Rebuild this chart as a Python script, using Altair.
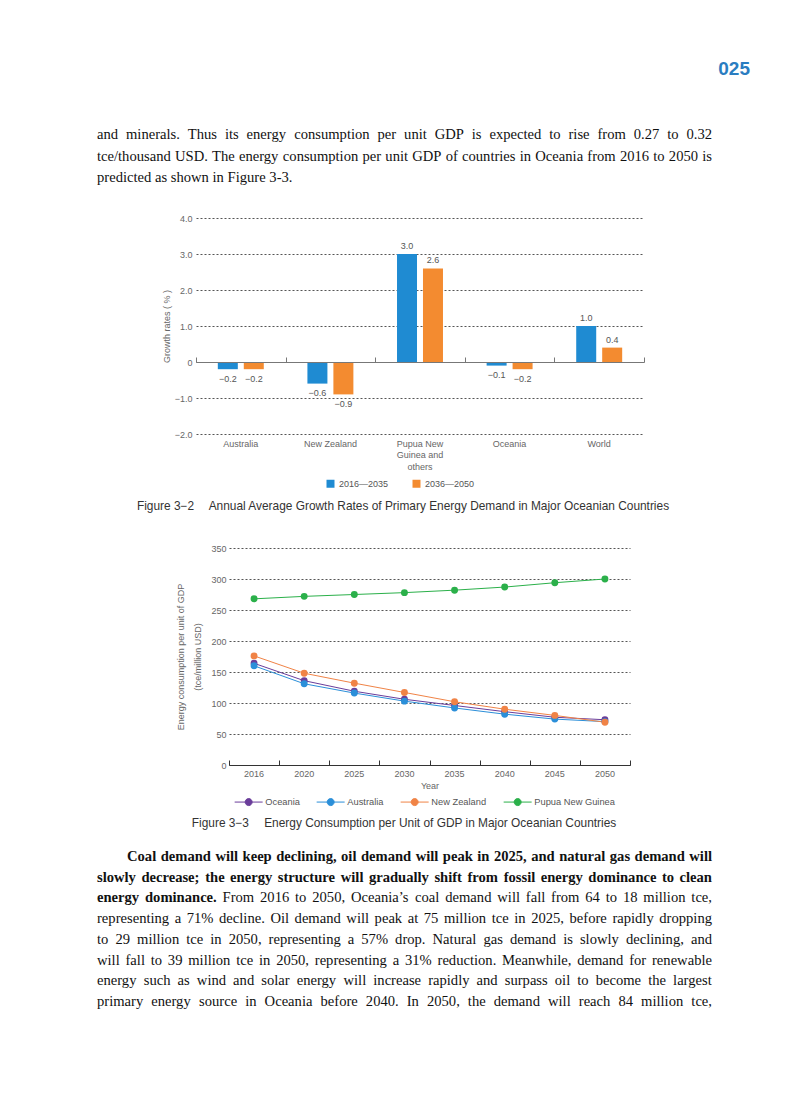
import altair as alt
import pandas as pd

W, H = 777, 1060

# ---------------- data ----------------
page_number = "025"
para1_lines = [
    "and minerals. Thus its energy consumption per unit GDP is expected to rise from 0.27 to 0.32",
    "tce/thousand USD. The energy consumption per unit GDP of countries in Oceania from 2016 to 2050 is",
    "predicted as shown in Figure 3-3.",
]
para2_bold_lines = [
    "Coal demand will keep declining, oil demand will peak in 2025, and natural gas demand will",
    "slowly decrease; the energy structure will gradually shift from fossil energy dominance to clean",
    "energy dominance.",
]
para2_regular_lines = [
    "From 2016 to 2050, Oceania\u2019s coal demand will fall from 64 to 18 million tce,",
    "representing a 71% decline. Oil demand will peak at 75 million tce in 2025, before rapidly dropping",
    "to 29 million tce in 2050, representing a 57% drop. Natural gas demand is slowly declining, and",
    "will fall to 39 million tce in 2050, representing a 31% reduction. Meanwhile, demand for renewable",
    "energy such as wind and solar energy will increase rapidly and surpass oil to become the largest",
    "primary energy source in Oceania before 2040. In 2050, the demand will reach 84 million tce,",
]
caption1 = "Figure 3\u22122\u2003 Annual Average Growth Rates of Primary Energy Demand in Major Oceanian Countries"
caption2 = "Figure 3\u22123\u2003 Energy Consumption per Unit of GDP in Major Oceanian Countries"

bar_categories = ["Australia", "New Zealand", "Pupua New Guinea and others", "Oceania", "World"]
period_a = "2016\u20142035"
period_b = "2036\u20142050"
growth_2016_2035 = [-0.2, -0.6, 3.0, -0.1, 1.0]
growth_2036_2050 = [-0.2, -0.9, 2.6, -0.2, 0.4]
bar_y_ticks = [-2, -1, 0, 1, 2, 3, 4]

years = ["2016", "2020", "2025", "2030", "2035", "2040", "2045", "2050"]
series = ["Oceania", "Australia", "New Zealand", "Pupua New Guinea"]
oceania = [164, 136, 119, 106, 96, 86, 77, 73]
australia = [160, 131, 116, 103, 92, 82, 74, 70]
new_zealand = [176, 148, 132, 117, 102, 90, 80, 69]
png = [268, 272, 275, 278, 282, 287, 294, 300]
line_y_ticks = [0, 50, 100, 150, 200, 250, 300, 350]

# ---------------- styles / layout ----------------
SANS = "Liberation Sans"
SERIF = "Liberation Serif"
BLUE, ORANGE = "#1f8bd2", "#f38b30"
LINE_COLORS = ["#6a3d9a", "#2b8fd9", "#f08346", "#2bb04a"]
AX_GRAY = "#666"

BX0, BX1, BYB, BYT = 188, 636, 426, 210
BY0 = BYB - (0 - (-2)) / 6 * (BYB - BYT)
LX0, LX1, LYB, LYT = 221, 622, 757, 540

# ---------------- bar chart ----------------
bar_df = pd.DataFrame({
    "cat": bar_categories * 2,
    "period": [period_a] * 5 + [period_b] * 5,
    "value": growth_2016_2035 + growth_2036_2050,
})
bx_scale = alt.Scale(domain=bar_categories, range=[BX0, BX1], paddingInner=0, paddingOuter=0)
bxo = alt.XOffset("period:N", scale=alt.Scale(domain=[period_a, period_b], paddingInner=0.23, paddingOuter=0.84))
by = alt.Y(
    "value:Q",
    scale=alt.Scale(domain=[-2, 4], range=[BYB, BYT], nice=False, zero=False),
    axis=alt.Axis(
        orient="left", offset=-BX0, values=bar_y_ticks,
        labelExpr="datum.value == 0 ? '0' : replace(format(datum.value, '.1f'), '-', '\u2212')",
        grid=True, gridDash=[2, 2], gridColor="#555", gridWidth=1,
        domain=False, ticks=False, tickSize=0, labelPadding=4,
        labelFontSize=9, labelColor=AX_GRAY,
        title="Growth rates ( % )", titleFontSize=9, titleFontWeight="normal",
        titleColor=AX_GRAY, titlePadding=3,
    ),
)

bx_bottom = alt.X(
    "cat:N", scale=bx_scale,
    axis=alt.Axis(
        orient="bottom", offset=-(H - BYB), domain=False, ticks=False, tickSize=0,
        labelPadding=5, labelAngle=0, labelFontSize=9, labelColor=AX_GRAY,
        labelLimit=200, labelLineHeight=11.5, labelBaseline="top",
        labelExpr="datum.label == 'Pupua New Guinea and others' ? ['Pupua New', 'Guinea and', 'others'] : datum.label",
        title=None, grid=False,
    ),
)
bx_top = alt.X(
    "cat:N", scale=bx_scale,
    axis=alt.Axis(
        orient="top", offset=-BY0, domain=True, domainColor="#777", domainWidth=1.2,
        ticks=True, tickSize=5, tickColor="#777", tickBand="extent",
        labels=False, title=None, grid=False, zindex=1,
    ),
)
bx_none = alt.X("cat:N", scale=bx_scale, axis=None)

bar_color = alt.Color(
    "period:N",
    scale=alt.Scale(domain=[period_a, period_b], range=[BLUE, ORANGE]),
    legend=alt.Legend(
        orient="none", legendX=318, legendY=471, direction="horizontal", title=None,
        symbolType="square", symbolSize=64, symbolStrokeWidth=0,
        labelFontSize=9, labelColor="#555", labelFont=SANS,
        columnPadding=23, labelOffset=4, padding=0,
    ),
)

bars = alt.Chart(bar_df).mark_bar().encode(x=bx_bottom, xOffset=bxo, y=by, color=bar_color)
lab_expr = "replace(format(datum.value, '.1f'), '-', '\u2212')"
pos_labels = (
    alt.Chart(bar_df).transform_filter("datum.value >= 0").transform_calculate(lab=lab_expr)
    .mark_text(baseline="bottom", dy=-3, fontSize=9, color="#555", font=SANS)
    .encode(x=bx_top, xOffset=bxo, y=by, text="lab:N")
)
neg_labels = (
    alt.Chart(bar_df).transform_filter("datum.value < 0").transform_calculate(lab=lab_expr)
    .mark_text(baseline="top", dy=5.5, fontSize=9, color="#555", font=SANS)
    .encode(x=bx_none, xOffset=bxo, y=by, text="lab:N")
)
bar_group = alt.layer(bars, pos_labels, neg_labels).resolve_axis(x="independent")

# ---------------- line chart ----------------
line_df = pd.DataFrame({
    "year": years * 4,
    "series": [s for s in series for _ in years],
    "value": oceania + australia + new_zealand + png,
})
lx_scale = alt.Scale(domain=years, range=[LX0, LX1], paddingInner=0, paddingOuter=0)
ly_scale = alt.Scale(domain=[0, 350], range=[LYB, LYT], nice=False, zero=False)
ly = alt.Y(
    "value:Q", scale=ly_scale,
    axis=alt.Axis(
        orient="left", offset=-LX0, values=line_y_ticks,
        grid=True, gridDash=[2, 2], gridColor="#555", gridWidth=1,
        domain=False, ticks=False, tickSize=0, labelPadding=3,
        labelFontSize=9, labelColor=AX_GRAY,
        title=["Energy consumption per unit of GDP", "(tce/million USD)"],
        titleFontSize=9, titleFontWeight="normal", titleColor=AX_GRAY,
        titlePadding=8, titleLineHeight=17,
    ),
)
lx_bottom = alt.X(
    "year:O", scale=lx_scale,
    axis=alt.Axis(
        orient="bottom", offset=-(H - LYB), domain=False, ticks=False, tickSize=0,
        labelPadding=4, labelAngle=0, labelFontSize=9, labelColor=AX_GRAY,
        title="Year", titleFontSize=9, titleFontWeight="normal", titleColor=AX_GRAY,
        titlePadding=3, grid=False,
    ),
)
lx_top = alt.X(
    "year:O", scale=lx_scale,
    axis=alt.Axis(
        orient="top", offset=-LYB, domain=True, domainColor="#333", domainWidth=1.2,
        ticks=True, tickSize=5, tickColor="#333", tickBand="extent",
        labels=False, title=None, grid=False, zindex=1,
    ),
)
line_color = alt.Color(
    "series:N",
    scale=alt.Scale(domain=series, range=LINE_COLORS),
    legend=alt.Legend(
        orient="none", legendX=236, legendY=789, direction="horizontal", title=None,
        symbolType="M-4,0H4M1,0A1,1 0 1,1 -1,0A1,1 0 1,1 1,0",
        symbolSize=49, symbolStrokeWidth=1,
        labelFontSize=9.3, labelColor="#555", labelFont=SANS,
        columnPadding=14, labelOffset=12, padding=0,
    ),
)
lines = alt.Chart(line_df).mark_line(strokeWidth=1).encode(x=lx_bottom, y=ly, color=line_color, detail="series:N")
points = alt.Chart(line_df).mark_circle(size=48, opacity=1).encode(x=lx_top, y=ly, color=line_color)
line_group = alt.layer(lines, points).resolve_axis(x="independent")

# ---------------- page text (justified with Times metrics) ----------------
_TR = {" ": 250, "%": 833, ",": 250, "-": 333, ".": 250, "/": 278, ":": 278, ";": 278,
       "\u2019": 333, "'": 333,
       "A": 722, "B": 667, "C": 667, "D": 722, "E": 611, "F": 556, "G": 722, "H": 722,
       "I": 333, "J": 389, "K": 722, "L": 611, "M": 889, "N": 722, "O": 722, "P": 556,
       "Q": 722, "R": 667, "S": 556, "T": 611, "U": 722, "V": 722, "W": 944, "X": 722,
       "Y": 722, "Z": 611,
       "a": 444, "b": 500, "c": 444, "d": 500, "e": 444, "f": 333, "g": 500, "h": 500,
       "i": 278, "j": 278, "k": 500, "l": 278, "m": 778, "n": 500, "o": 500, "p": 500,
       "q": 500, "r": 333, "s": 389, "t": 278, "u": 500, "v": 500, "w": 722, "x": 500,
       "y": 500, "z": 444}
_TB = dict(_TR)
_TB.update({"%": 1000, ":": 333, ";": 333, "C": 722,
            "a": 500, "b": 556, "d": 556, "h": 556, "j": 333, "k": 556, "m": 833, "n": 556,
            "p": 556, "q": 556, "r": 444, "t": 333, "u": 556})

FS = 14.6


def word_w(word, bold):
    table = _TB if bold else _TR
    return sum(table.get(ch, 500) for ch in word) * FS / 1000.0


def layout_line(words, x0, x1, y, justify):
    """words: list of (word, bold). Returns rows with word positions."""
    widths = [word_w(w, b) for w, b in words]
    gap = word_w(" ", False)
    if justify and len(words) > 1:
        gap = (x1 - x0 - sum(widths)) / (len(words) - 1)
    rows, x = [], x0
    for (w, b), wd in zip(words, widths):
        rows.append({"t": w, "px": x, "py": y, "bold": b})
        x += wd + gap
    return rows


TXT_L, TXT_R = 89, 704
P1_Y0, P1_LEAD = 127, 21.5
P2_IND, P2_Y0, P2_LEAD = 119, 849, 20.7

word_rows = []
for i, line in enumerate(para1_lines):
    word_rows += layout_line([(w, False) for w in line.split(" ")], TXT_L, TXT_R,
                             P1_Y0 + i * P1_LEAD, justify=(i < len(para1_lines) - 1))

para2_words = [[(w, True) for w in ln.split(" ")] for ln in para2_bold_lines]
para2_words[-1] += [(w, False) for w in para2_regular_lines[0].split(" ")]
para2_words += [[(w, False) for w in ln.split(" ")] for ln in para2_regular_lines[1:]]
for i, words in enumerate(para2_words):
    word_rows += layout_line(words, P2_IND if i == 0 else TXT_L, TXT_R,
                             P2_Y0 + i * P2_LEAD, justify=True)
words_df = pd.DataFrame(word_rows)


def text_layer(df, **kw):
    return alt.Chart(df).mark_text(baseline="middle", **kw).encode(
        x=alt.X("px:Q", scale=None, axis=None),
        y=alt.Y("py:Q", scale=None, axis=None),
        text="t:N",
    )


pnum_df = pd.DataFrame({"t": [page_number], "px": [742], "py": [61]})
cap_df = pd.DataFrame({"t": [caption1, caption2], "px": [395, 396], "py": [498, 815]})

t_pnum = text_layer(pnum_df, align="right", font=SANS, fontSize=19,
                    fontWeight="bold", color="#2a7dc1")
t_reg = text_layer(words_df[~words_df["bold"]], align="left", font=SERIF, fontSize=FS, color="#111")
t_bold = text_layer(words_df[words_df["bold"]], align="left", font=SERIF, fontSize=FS,
                    fontWeight="bold", color="#111")
t_cap = text_layer(cap_df, align="center", font=SANS, fontSize=11.9, color="#333")

chart = (
    alt.layer(bar_group, line_group, t_pnum, t_reg, t_bold, t_cap)
    .resolve_scale(x="independent", y="independent", color="independent")
    .resolve_axis(x="independent", y="independent")
    .resolve_legend(color="independent")
    .properties(width=W, height=H, padding=0, autosize=alt.AutoSizeParams(type="none"))
    .configure_view(stroke=None)
    .configure_axis(labelFont=SANS, titleFont=SANS)
    .configure_legend(labelFont=SANS)
)

chart.save("out.html", embed_options={"renderer": "svg", "actions": False})
